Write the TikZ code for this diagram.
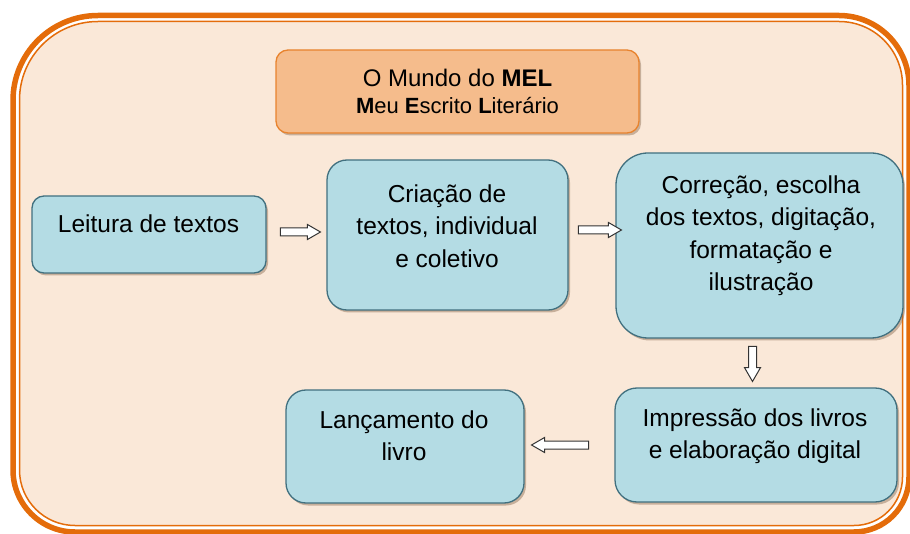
\documentclass[tikz,border=0pt]{standalone}
\usepackage{fontspec}
\setmainfont{Liberation Sans}
\usetikzlibrary{shapes.arrows,shadows}
\definecolor{framecol}{HTML}{E46C0A}
\definecolor{bgcol}{HTML}{FAE8D8}
\definecolor{boxfill}{HTML}{B4DCE4}
\definecolor{boxline}{HTML}{41707F}
\definecolor{titlefill}{HTML}{F5BC8C}
\definecolor{titleline}{HTML}{E8832E}
\definecolor{shadowcol}{HTML}{8A6A50}
\tikzset{
  stepbox/.style={rectangle, draw=boxline, fill=boxfill, line width=1.3pt, inner sep=0pt,
    drop shadow={shadow xshift=2pt, shadow yshift=-2.5pt, fill=shadowcol, opacity=0.45}},
  titlebox/.style={rectangle, draw=titleline, fill=titlefill, line width=1.3pt, inner sep=0pt,
    rounded corners=12pt,
    drop shadow={shadow xshift=2pt, shadow yshift=-2.5pt, fill=shadowcol, opacity=0.45}},
  txt/.style={font=\fontsize{24.5}{32.5}\selectfont, align=center, inner sep=0pt, anchor=north, text=black},
  blockarrow/.style={single arrow, draw=black!80, fill=white, line width=1pt, inner xsep=0pt, inner ysep=3.5pt,
    minimum width=14pt, single arrow head extend=3.5pt, single arrow tip angle=60}
}
\begin{document}
\begin{tikzpicture}[x=1pt,y=-1pt]
\useasboundingbox (0,0) rectangle (910,534);
% outer frame (thick)
\draw[framecol, line width=5.5pt]
  (13,100.5) arc[start angle=180, end angle=270, radius=85]
  -- (839,15.5) arc[start angle=270, end angle=360, radius=70]
  -- (909,477) arc[start angle=0, end angle=90, radius=55]
  -- (75,532) arc[start angle=90, end angle=180, radius=62]
  -- cycle;
% inner frame (thin) with fill
\draw[framecol, line width=1.5pt, fill=bgcol]
  (19.5,100) arc[start angle=180, end angle=270, radius=78.5]
  -- (839,21.5) arc[start angle=270, end angle=360, radius=63.5]
  -- (902.5,477) arc[start angle=0, end angle=90, radius=48.5]
  -- (75,525.5) arc[start angle=90, end angle=180, radius=55.5]
  -- cycle;

% title
\node[titlebox, minimum width=363pt, minimum height=83pt] (title) at (457.5,91.5) {};
\node[inner sep=0pt, anchor=north, align=center, font=\fontsize{24}{27}\selectfont] (titletxt) at (457.5,67.1)
  {\strut O Mundo do \textbf{MEL}\\{\fontsize{22}{27}\selectfont\textbf{M}eu \textbf{E}scrito \textbf{L}iterário}};

% boxes
\node[stepbox, rounded corners=12pt, minimum width=234pt, minimum height=77pt] (leitura) at (149,234.5) {};
\node[stepbox, rounded corners=20pt, minimum width=241pt, minimum height=150pt] (criacao) at (447.5,235) {};
\node[stepbox, rounded corners=32pt, minimum width=287pt, minimum height=185pt] (correcao) at (759.5,245.5) {};
\node[stepbox, rounded corners=22pt, minimum width=282pt, minimum height=114pt] (impressao) at (756,445) {};
\node[stepbox, rounded corners=20pt, minimum width=238pt, minimum height=113pt] (lancamento) at (405,446.5) {};

% texts
\node[txt] (leituratxt) at (148.5,209.25) {\strut Leitura de textos};
\node[txt] (criacaotxt) at (447,179.25) {\strut Criação de\\textos, individual\\e coletivo};
\node[txt] (correcaotxt) at (761,170.25) {\strut Correção, escolha\\dos textos, digitação,\\formatação e\\ilustração};
\node[txt] (impressaotxt) at (755,403.25) {\strut Impressão dos livros\\e elaboração digital};
\node[txt] (lancamentotxt) at (404,405.25) {\strut Lançamento do\\livro};

% arrows
\node[blockarrow, minimum height=40pt] (a1) at (297,232) {};
\node[blockarrow, minimum height=43pt] (a2) at (596.5,230) {};
\node[blockarrow, minimum height=35pt, minimum width=15pt, single arrow head extend=4pt, rotate=-90] (a3) at (752.5,360.5) {};
\node[blockarrow, minimum height=57pt, rotate=180] (a4) at (563.5,445) {};
\end{tikzpicture}
\end{document}
